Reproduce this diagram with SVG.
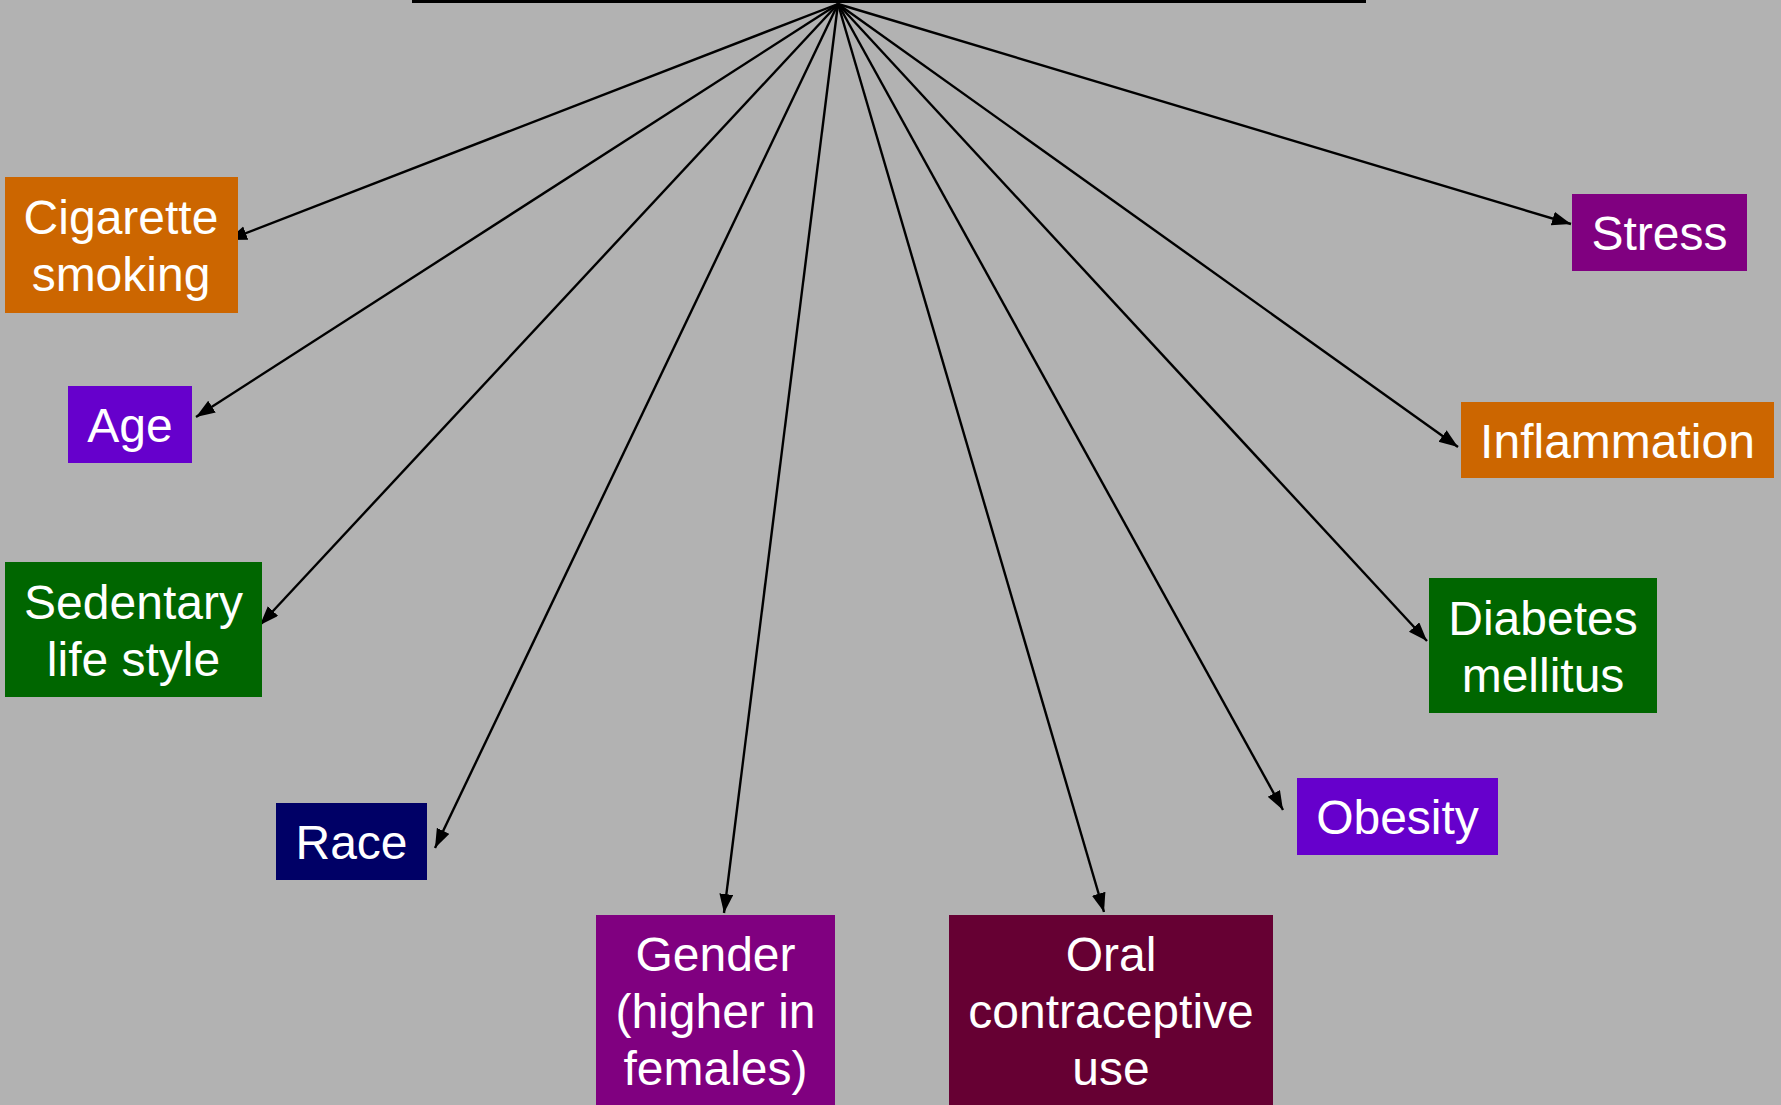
<svg xmlns="http://www.w3.org/2000/svg" width="1781" height="1105" viewBox="0 0 1781 1105">
  <style>
    .lbl { font-family: "Liberation Sans", Arial, sans-serif; font-size: 48px; fill: #ffffff; text-anchor: middle; }
    .conn { stroke: #000000; stroke-width: 2.4; fill: none; marker-end: url(#arrow); }
  </style>
  <defs>
    <marker id="arrow" markerUnits="userSpaceOnUse" markerWidth="22" markerHeight="16" refX="19" refY="7" orient="auto">
      <path d="M0,0 L19,7 L0,14 Z" fill="#000000"/>
    </marker>
  </defs>

  <rect x="0" y="0" width="1781" height="1105" fill="#b2b2b2"/>

  <!-- bottom edge of the header box above the fan -->
  <g id="header-edge">
    <rect x="412" y="0" width="954" height="3" fill="#000000"/>
  </g>

  <!-- connectors fanning out from one point -->
  <g id="connectors">
    <path class="conn" d="M838,4 L228,240"/>
    <path class="conn" d="M838,4 L196,417"/>
    <path class="conn" d="M838,4 L260,625"/>
    <path class="conn" d="M838,4 L435,848"/>
    <path class="conn" d="M838,4 L724,913"/>
    <path class="conn" d="M838,4 L1104,912"/>
    <path class="conn" d="M838,4 L1283,810"/>
    <path class="conn" d="M838,4 L1427,641"/>
    <path class="conn" d="M838,4 L1458,447"/>
    <path class="conn" d="M838,4 L1571,224"/>
  </g>

  <g id="node-cigarette">
    <rect x="5" y="177" width="233" height="136" fill="#cc6600"/>
    <text class="lbl" x="121" y="234">Cigarette</text>
    <text class="lbl" x="121" y="291">smoking</text>
  </g>

  <g id="node-age">
    <rect x="68" y="386" width="124" height="77" fill="#6600cc"/>
    <text class="lbl" x="130" y="442">Age</text>
  </g>

  <g id="node-sedentary">
    <rect x="5" y="562" width="257" height="135" fill="#006600"/>
    <text class="lbl" x="133.5" y="619">Sedentary</text>
    <text class="lbl" x="133.5" y="676">life style</text>
  </g>

  <g id="node-race">
    <rect x="276" y="803" width="151" height="77" fill="#000066"/>
    <text class="lbl" x="351.5" y="859">Race</text>
  </g>

  <g id="node-gender">
    <rect x="596" y="915" width="239" height="190" fill="#800080"/>
    <text class="lbl" x="715.5" y="971">Gender</text>
    <text class="lbl" x="715.5" y="1028">(higher in</text>
    <text class="lbl" x="715.5" y="1085">females)</text>
  </g>

  <g id="node-oral">
    <rect x="949" y="915" width="324" height="190" fill="#660033"/>
    <text class="lbl" x="1111" y="971">Oral</text>
    <text class="lbl" x="1111" y="1028">contraceptive</text>
    <text class="lbl" x="1111" y="1085">use</text>
  </g>

  <g id="node-obesity">
    <rect x="1297" y="778" width="201" height="77" fill="#6600cc"/>
    <text class="lbl" x="1397.5" y="834">Obesity</text>
  </g>

  <g id="node-diabetes">
    <rect x="1429" y="578" width="228" height="135" fill="#006600"/>
    <text class="lbl" x="1543" y="635">Diabetes</text>
    <text class="lbl" x="1543" y="692">mellitus</text>
  </g>

  <g id="node-inflammation">
    <rect x="1461" y="402" width="313" height="76" fill="#cc6600"/>
    <text class="lbl" x="1617.5" y="458">Inflammation</text>
  </g>

  <g id="node-stress">
    <rect x="1572" y="194" width="175" height="77" fill="#800080"/>
    <text class="lbl" x="1659.5" y="250">Stress</text>
  </g>
</svg>
